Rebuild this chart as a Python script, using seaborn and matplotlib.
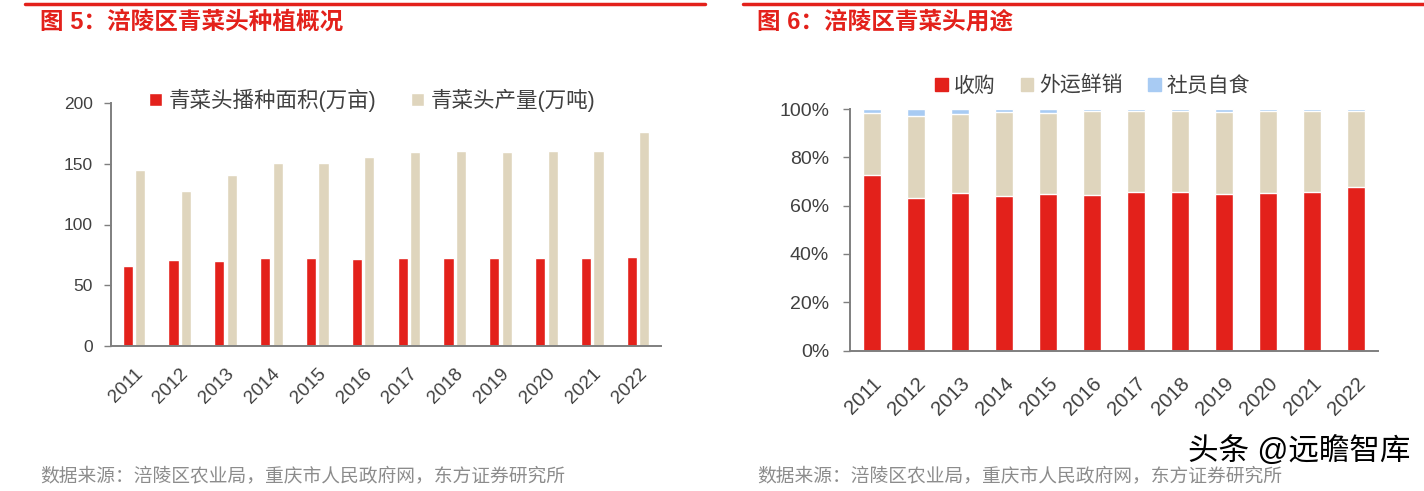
import numpy as np
import pandas as pd
import matplotlib
matplotlib.use("Agg")
import matplotlib.pyplot as plt
from matplotlib.patches import Patch
import seaborn as sns

years = ["2011", "2012", "2013", "2014", "2015", "2016", "2017", "2018", "2019", "2020", "2021", "2022"]
area = [66.1, 70.8, 70.2, 72.4, 72.1, 71.9, 72.1, 72.4, 72.1, 72.4, 72.7, 73.0]
output = [145.1, 127.6, 140.4, 150.8, 150.8, 155.7, 159.6, 160.1, 159.8, 160.7, 160.7, 176.5]
area_label = "青菜头播种面积(万亩)"
output_label = "青菜头产量(万吨)"

purchase = [72.8, 63.1, 65.1, 64.0, 64.9, 64.5, 65.6, 65.6, 64.6, 65.3, 65.8, 67.8]
ship_out = [25.5, 34.1, 33.0, 34.9, 33.6, 34.8, 33.7, 33.7, 34.3, 34.0, 33.2, 31.5]
self_use = [1.7, 2.8, 1.9, 1.1, 1.5, 0.7, 0.7, 0.7, 1.1, 0.7, 1.0, 0.7]
use_labels = ["收购", "外运鲜销", "社员自食"]

RED = "#E3211B"
BEIGE = "#DFD5BD"
BLUE = "#A8CBF3"
AX = "#7F7F7F"
TXT = "#404040"

sns.set_style("white")
plt.rcParams["font.family"] = ["Liberation Sans", "Noto Sans CJK SC", "DejaVu Sans"]

fig = plt.figure(figsize=(14.24, 4.91), dpi=100)


def style_axes(ax, ylab, xlab, ypad, xpad):
    ax.set_xlabel("")
    ax.set_ylabel("")
    ax.tick_params(axis="y", labelsize=ylab, colors=TXT, length=5, width=1,
                   direction="out", left=True, color=AX, pad=ypad)
    ax.tick_params(axis="x", labelsize=xlab, colors=TXT, length=0, pad=xpad)
    for lab in ax.get_xticklabels():
        lab.set_rotation(45)
        lab.set_ha("right")
        lab.set_rotation_mode("anchor")
    for s in ["top", "right"]:
        ax.spines[s].set_visible(False)
    for s in ["left", "bottom"]:
        ax.spines[s].set_color(AX)
        ax.spines[s].set_linewidth(1.4)


# ---------- left chart ----------
axL = fig.add_axes([111 / 1424, 1 - 346 / 491, 550 / 1424, 243 / 491])
dfL = pd.DataFrame({
    "year": years * 2,
    "value": area + output,
    "series": [area_label] * len(years) + [output_label] * len(years),
})
sns.barplot(data=dfL, x="year", y="value", hue="series", palette=[RED, BEIGE],
            width=0.54, gap=0.18, ax=axL, saturation=1, legend=True)
axL.set_ylim(0, 200)
axL.set_yticks([0, 50, 100, 150, 200])
axL.set_xlim(-0.5, len(years) - 0.5)
style_axes(axL, 12.5, 13.5, 8, 14)
axL.legend(loc="center", bbox_to_anchor=(0.475, 1.01), ncol=2, frameon=False,
           fontsize=15.5, handlelength=0.6, handleheight=0.6, handletextpad=0.3,
           columnspacing=1.6, labelcolor=TXT)

# ---------- right chart ----------
axR = fig.add_axes([850 / 1424, 1 - 350.5 / 491, 528 / 1424, 241.5 / 491])
p = np.array(purchase)
s1 = p + np.array(ship_out)
s2 = s1 + np.array(self_use)
dfR = pd.DataFrame({"year": years, "total": s2, "mid": s1, "low": p})
sns.barplot(data=dfR, x="year", y="total", color=BLUE, width=0.39, saturation=1, ax=axR)
sns.barplot(data=dfR, x="year", y="mid", color=BEIGE, width=0.39, saturation=1, ax=axR)
sns.barplot(data=dfR, x="year", y="low", color=RED, width=0.39, saturation=1, ax=axR)
axR.set_ylim(0, 100)
axR.set_yticks([0, 20, 40, 60, 80, 100])
axR.set_yticklabels([f"{v}%" for v in [0, 20, 40, 60, 80, 100]])
axR.set_xlim(-0.5, len(years) - 0.5)
style_axes(axR, 14, 14.5, 10, 17)
handles = [Patch(color=c) for c in [RED, BEIGE, BLUE]]
axR.legend(handles, use_labels, loc="center", bbox_to_anchor=(0.46, 1.095), ncol=3, frameon=False,
           fontsize=15, handlelength=0.6, handleheight=0.6, handletextpad=0.3,
           columnspacing=1.2, labelcolor=TXT)

# ---------- titles, rules, sources ----------
fig.add_artist(plt.Line2D([25 / 1424, 705 / 1424], [1 - 4 / 491] * 2, color=RED, lw=2.5))
fig.add_artist(plt.Line2D([743 / 1424, 1.0], [1 - 4 / 491] * 2, color=RED, lw=2.5))
fig.text(40 / 1424, 1 - 22 / 491, "图 5：涪陵区青菜头种植概况", color=RED, fontsize=17,
         fontweight="bold", va="center", ha="left")
fig.text(757 / 1424, 1 - 22 / 491, "图 6：涪陵区青菜头用途", color=RED, fontsize=17,
         fontweight="bold", va="center", ha="left")
src = "数据来源：涪陵区农业局，重庆市人民政府网，东方证券研究所"
fig.text(40 / 1424, 1 - 476 / 491, src, color="#8C8C8C", fontsize=13.5, va="center", ha="left")
fig.text(757 / 1424, 1 - 476 / 491, src, color="#8C8C8C", fontsize=13.5, va="center", ha="left")
fig.text(1410 / 1424, 1 - 453 / 491, "头条 @远瞻智库", color="black", fontsize=22,
         va="center", ha="right")

fig.savefig("out.png", dpi=100)
